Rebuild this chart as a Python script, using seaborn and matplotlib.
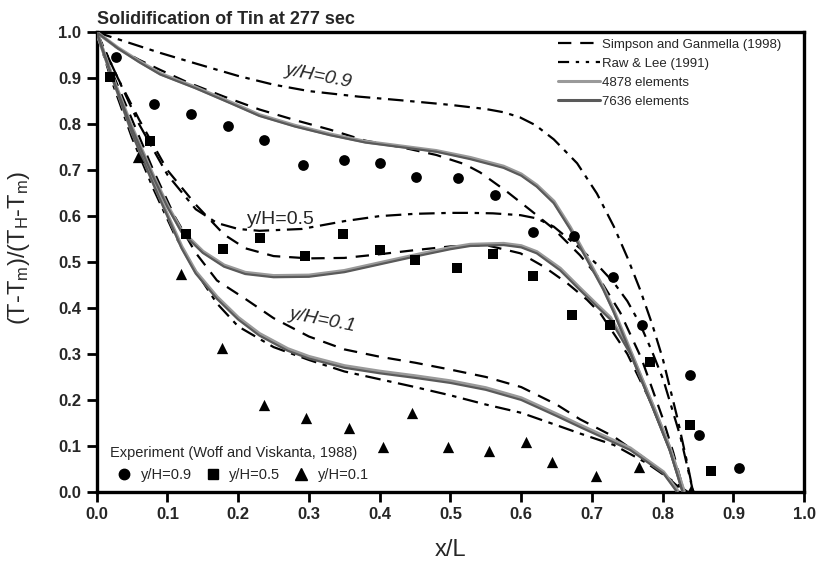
import matplotlib
matplotlib.use("Agg")
import matplotlib.pyplot as plt
from matplotlib.lines import Line2D
import seaborn as sns
import pandas as pd

# ---------------- data ----------------
# Experiment (Woff and Viskanta, 1988)
exp09_x = [0.028, 0.081, 0.134, 0.186, 0.236, 0.292, 0.349, 0.401, 0.452, 0.511, 0.563, 0.617, 0.674, 0.730, 0.770, 0.838, 0.851, 0.908]
exp09_y = [0.946, 0.844, 0.822, 0.796, 0.765, 0.711, 0.722, 0.716, 0.686, 0.682, 0.646, 0.566, 0.556, 0.468, 0.363, 0.254, 0.123, 0.051]
exp05_x = [0.019, 0.075, 0.126, 0.179, 0.231, 0.294, 0.348, 0.401, 0.450, 0.509, 0.560, 0.616, 0.672, 0.725, 0.782, 0.838, 0.868]
exp05_y = [0.903, 0.764, 0.562, 0.528, 0.552, 0.514, 0.562, 0.526, 0.504, 0.486, 0.517, 0.470, 0.385, 0.363, 0.282, 0.145, 0.046]
exp01_x = [0.058, 0.119, 0.177, 0.237, 0.296, 0.357, 0.404, 0.445, 0.496, 0.555, 0.607, 0.644, 0.706, 0.766, 0.840]
exp01_y = [0.729, 0.473, 0.312, 0.189, 0.161, 0.140, 0.097, 0.171, 0.097, 0.089, 0.109, 0.064, 0.034, 0.054, 0.004]

# Simpson and Ganmella (1998)
sg09_x = [0, 0.03, 0.06, 0.09, 0.13, 0.18, 0.23, 0.28, 0.33, 0.38, 0.43, 0.48, 0.52, 0.542, 0.58, 0.613, 0.646, 0.683, 0.71, 0.74, 0.77, 0.80, 0.815, 0.83]
sg09_y = [1.0, 0.965, 0.94, 0.918, 0.89, 0.86, 0.832, 0.809, 0.788, 0.764, 0.750, 0.733, 0.713, 0.695, 0.653, 0.613, 0.572, 0.515, 0.465, 0.39, 0.29, 0.16, 0.085, 0.0]
sg05_x = [0, 0.03, 0.06, 0.10, 0.14, 0.18, 0.21, 0.25, 0.30, 0.35, 0.40, 0.45, 0.50, 0.55, 0.599, 0.632, 0.665, 0.693, 0.712, 0.75, 0.78, 0.81, 0.83]
sg05_y = [1.0, 0.90, 0.81, 0.70, 0.625, 0.56, 0.53, 0.513, 0.508, 0.509, 0.517, 0.526, 0.534, 0.537, 0.519, 0.49, 0.454, 0.418, 0.388, 0.30, 0.205, 0.095, 0.0]
sg01_x = [0, 0.02, 0.05, 0.08, 0.11, 0.14, 0.17, 0.21, 0.25, 0.30, 0.35, 0.40, 0.45, 0.50, 0.55, 0.60, 0.65, 0.683, 0.731, 0.778, 0.81, 0.83]
sg01_y = [1.0, 0.92, 0.81, 0.70, 0.60, 0.52, 0.46, 0.42, 0.378, 0.338, 0.31, 0.294, 0.281, 0.266, 0.25, 0.228, 0.19, 0.158, 0.12, 0.069, 0.027, 0.0]

# Raw & Lee (1991)
rl09_x = [0, 0.02, 0.05, 0.09, 0.14, 0.20, 0.25, 0.30, 0.37, 0.43, 0.50, 0.55, 0.575, 0.598, 0.62, 0.646, 0.679, 0.707, 0.731, 0.75, 0.768, 0.785, 0.80, 0.82, 0.835, 0.843]
rl09_y = [1.0, 0.99, 0.975, 0.955, 0.932, 0.905, 0.886, 0.872, 0.86, 0.852, 0.842, 0.833, 0.826, 0.815, 0.798, 0.767, 0.715, 0.649, 0.577, 0.51, 0.44, 0.365, 0.29, 0.165, 0.06, 0.0]
rl05_x = [0, 0.03, 0.06, 0.10, 0.14, 0.17, 0.20, 0.23, 0.29, 0.35, 0.40, 0.45, 0.50, 0.528, 0.56, 0.599, 0.622, 0.646, 0.683, 0.707, 0.731, 0.75, 0.768, 0.785, 0.801, 0.825, 0.843]
rl05_y = [1.0, 0.90, 0.80, 0.69, 0.615, 0.585, 0.572, 0.568, 0.572, 0.589, 0.600, 0.605, 0.607, 0.607, 0.606, 0.602, 0.595, 0.577, 0.53, 0.495, 0.455, 0.415, 0.365, 0.305, 0.243, 0.12, 0.0]
rl01_x = [0, 0.02, 0.05, 0.08, 0.11, 0.14, 0.17, 0.20, 0.25, 0.30, 0.35, 0.40, 0.45, 0.50, 0.55, 0.60, 0.65, 0.683, 0.731, 0.778, 0.81, 0.835]
rl01_y = [1.0, 0.90, 0.77, 0.66, 0.56, 0.48, 0.41, 0.36, 0.315, 0.287, 0.262, 0.245, 0.228, 0.21, 0.19, 0.172, 0.145, 0.127, 0.102, 0.062, 0.028, 0.0]

# 7636 elements
e7636_09_x = [0, 0.03, 0.06, 0.09, 0.14, 0.19, 0.23, 0.28, 0.33, 0.38, 0.43, 0.48, 0.528, 0.575, 0.60, 0.622, 0.646, 0.669, 0.693, 0.716, 0.731, 0.755, 0.788, 0.81, 0.828]
e7636_09_y = [1.0, 0.965, 0.935, 0.908, 0.878, 0.845, 0.818, 0.795, 0.776, 0.76, 0.75, 0.74, 0.724, 0.705, 0.688, 0.664, 0.628, 0.572, 0.505, 0.44, 0.39, 0.30, 0.175, 0.09, 0.0]
e7636_05_x = [0, 0.02, 0.05, 0.08, 0.10, 0.12, 0.15, 0.18, 0.21, 0.25, 0.30, 0.35, 0.40, 0.45, 0.50, 0.528, 0.575, 0.60, 0.622, 0.655, 0.683, 0.707, 0.726, 0.755, 0.788, 0.81, 0.828]
e7636_05_y = [1.0, 0.91, 0.79, 0.685, 0.62, 0.565, 0.52, 0.49, 0.474, 0.467, 0.468, 0.478, 0.495, 0.512, 0.528, 0.535, 0.537, 0.532, 0.519, 0.482, 0.439, 0.403, 0.375, 0.298, 0.175, 0.09, 0.0]
e7636_01_x = [0, 0.02, 0.05, 0.08, 0.10, 0.12, 0.14, 0.17, 0.20, 0.23, 0.27, 0.30, 0.35, 0.40, 0.45, 0.50, 0.55, 0.60, 0.65, 0.683, 0.754, 0.801, 0.82]
e7636_01_y = [1.0, 0.91, 0.78, 0.67, 0.60, 0.53, 0.475, 0.42, 0.375, 0.34, 0.307, 0.29, 0.27, 0.258, 0.248, 0.237, 0.222, 0.20, 0.165, 0.141, 0.091, 0.04, 0.0]

# 4878 elements
e4878_09_x = [0, 0.03, 0.06, 0.09, 0.14, 0.19, 0.23, 0.28, 0.33, 0.38, 0.43, 0.48, 0.528, 0.575, 0.60, 0.622, 0.646, 0.669, 0.693, 0.716, 0.731, 0.755, 0.788, 0.81, 0.83]
e4878_09_y = [1.0, 0.966, 0.937, 0.91, 0.88, 0.847, 0.82, 0.797, 0.778, 0.762, 0.752, 0.742, 0.727, 0.708, 0.691, 0.667, 0.632, 0.576, 0.509, 0.444, 0.394, 0.304, 0.18, 0.095, 0.0]
e4878_05_x = [0, 0.02, 0.05, 0.08, 0.10, 0.12, 0.15, 0.18, 0.21, 0.25, 0.30, 0.35, 0.40, 0.45, 0.50, 0.528, 0.575, 0.60, 0.622, 0.655, 0.683, 0.707, 0.726, 0.755, 0.788, 0.81, 0.83]
e4878_05_y = [1.0, 0.912, 0.793, 0.688, 0.623, 0.568, 0.523, 0.493, 0.477, 0.47, 0.471, 0.481, 0.498, 0.515, 0.531, 0.538, 0.540, 0.535, 0.522, 0.486, 0.443, 0.407, 0.379, 0.302, 0.18, 0.095, 0.0]
e4878_01_x = [0, 0.02, 0.05, 0.08, 0.10, 0.12, 0.14, 0.17, 0.20, 0.23, 0.27, 0.30, 0.35, 0.40, 0.45, 0.50, 0.55, 0.60, 0.65, 0.683, 0.754, 0.801, 0.822]
e4878_01_y = [1.0, 0.912, 0.783, 0.673, 0.603, 0.534, 0.479, 0.424, 0.379, 0.344, 0.311, 0.294, 0.274, 0.262, 0.252, 0.241, 0.226, 0.204, 0.169, 0.145, 0.095, 0.043, 0.0]

title_text = "Solidification of Tin at 277 sec"
x_ticks = [0.0, 0.1, 0.2, 0.3, 0.4, 0.5, 0.6, 0.7, 0.8, 0.9, 1.0]
y_ticks = [0.0, 0.1, 0.2, 0.3, 0.4, 0.5, 0.6, 0.7, 0.8, 0.9, 1.0]

# ---------------- style ----------------
sns.set_style("ticks")
plt.rcParams["font.family"] = ["Liberation Sans", "DejaVu Sans"]
plt.rcParams["mathtext.default"] = "regular"

fig = plt.figure(figsize=(8.19, 5.66), dpi=100)
ax = fig.add_axes([0.118, 0.131, 0.864, 0.812])

LW_D = 1.6
dash_s = (6, 4)
dash_r = (7, 3, 2, 3)
light = "#9a9a9a"
dark = "#5a5a5a"

def line(x, y, color, lw, dashes=None, zorder=2):
    df = pd.DataFrame({"x": x, "y": y})
    sns.lineplot(data=df, x="x", y="y", ax=ax, sort=False, color=color, lw=lw,
                 estimator=None, zorder=zorder)
    l = ax.lines[-1]
    if dashes is not None:
        l.set_dashes(dashes)
    l.set_solid_capstyle("butt")
    l.set_dash_capstyle("butt")
    l.set_solid_joinstyle("round")

for xs, ys in [(sg09_x, sg09_y), (sg05_x, sg05_y), (sg01_x, sg01_y)]:
    line(xs, ys, "black", LW_D, dash_s)
for xs, ys in [(rl09_x, rl09_y), (rl05_x, rl05_y), (rl01_x, rl01_y)]:
    line(xs, ys, "black", LW_D, dash_r)
for xs, ys in [(e4878_09_x, e4878_09_y), (e4878_05_x, e4878_05_y), (e4878_01_x, e4878_01_y)]:
    line(xs, ys, light, 2.6, None, 3)
for xs, ys in [(e7636_09_x, e7636_09_y), (e7636_05_x, e7636_05_y), (e7636_01_x, e7636_01_y)]:
    line(xs, ys, dark, 1.6, None, 4)

ms = 60
sns.scatterplot(x=exp09_x, y=exp09_y, ax=ax, marker="o", color="black", s=ms, linewidth=0, zorder=5)
sns.scatterplot(x=exp05_x, y=exp05_y, ax=ax, marker="s", color="black", s=ms * 0.85, linewidth=0, zorder=5)
sns.scatterplot(x=exp01_x, y=exp01_y, ax=ax, marker="^", color="black", s=ms * 1.1, linewidth=0, zorder=5)

ax.set_xlim(0, 1.0)
ax.set_ylim(0, 1.0)
ax.set_xticks(x_ticks)
ax.set_yticks(y_ticks)
ax.set_xticklabels([f"{v:.1f}" for v in x_ticks], fontweight="bold", fontsize=12)
ax.set_yticklabels([f"{v:.1f}" for v in y_ticks], fontweight="bold", fontsize=12)
ax.tick_params(direction="out", length=7, width=2, color="black", pad=4)
for sp in ax.spines.values():
    sp.set_visible(True)
    sp.set_linewidth(2.4)
    sp.set_color("black")

ax.set_xlabel("x/L", fontsize=17, labelpad=12)
ax.set_ylabel(r"(T-T$_m$)/(T$_H$-T$_m$)", fontsize=17)
ax.yaxis.set_label_coords(-0.092, 0.53)
ax.set_title(title_text, fontsize=13, fontweight="bold", loc="left", pad=6, x=0.0)

# curve annotations
ax.text(0.313, 0.905, "y/H=0.9", fontsize=14, style="italic", rotation=-11, ha="center", va="center")
ax.text(0.26, 0.593, "y/H=0.5", fontsize=14, ha="center", va="center")
ax.text(0.319, 0.374, "y/H=0.1", fontsize=14, style="italic", rotation=-11, ha="center", va="center")

# legends
h1 = [
    Line2D([], [], color="black", lw=LW_D, dashes=dash_s),
    Line2D([], [], color="black", lw=LW_D, dashes=(5, 3, 1.5, 3, 1.5, 3)),
    Line2D([], [], color=light, lw=2.2),
    Line2D([], [], color=dark, lw=2.2),
]
labels1 = ["Simpson and Ganmella (1998)", "Raw & Lee (1991)", "4878 elements", "7636 elements"]
leg1 = ax.legend(h1, labels1, loc="upper right", bbox_to_anchor=(0.978, 1.003), frameon=False,
                 fontsize=9.5, handlelength=3.2, handletextpad=0.1, labelspacing=0.5, borderaxespad=0.2)
ax.add_artist(leg1)

h2 = [
    Line2D([], [], ls="none", marker="o", color="black", markersize=7.5),
    Line2D([], [], ls="none", marker="s", color="black", markersize=7),
    Line2D([], [], ls="none", marker="^", color="black", markersize=8),
]
labels2 = ["y/H=0.9", "y/H=0.5", "y/H=0.1"]
leg2 = ax.legend(h2, labels2, loc="lower left", bbox_to_anchor=(0.004, 0.0), ncol=3, frameon=False,
                 fontsize=10.5, title="Experiment (Woff and Viskanta, 1988)", title_fontsize=10.5,
                 handlelength=2.0, handletextpad=0.15, columnspacing=0.4, borderaxespad=0.3)
leg2._legend_box.align = "left"

fig.savefig("out.png", dpi=100)
